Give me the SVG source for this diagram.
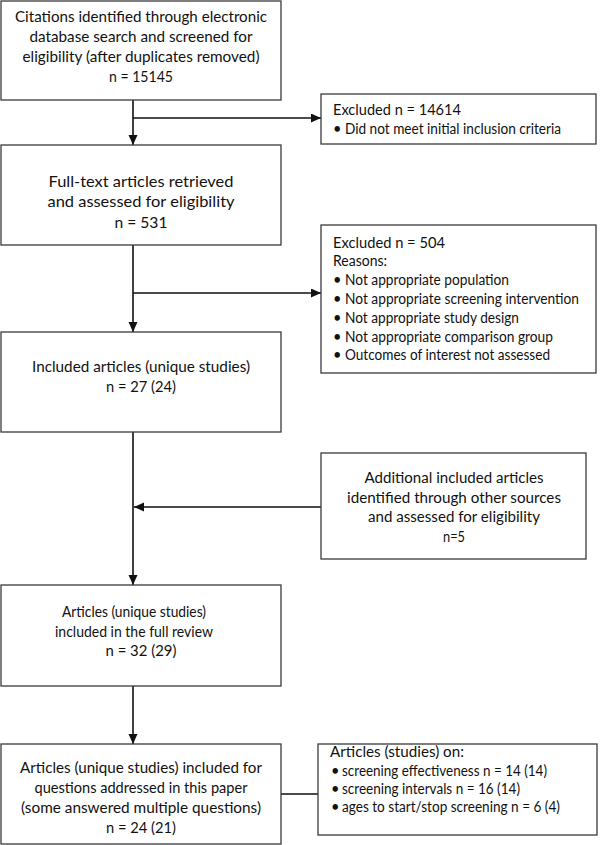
<svg xmlns="http://www.w3.org/2000/svg" width="600" height="845" viewBox="0 0 600 845">
<style>
.box{fill:#fff;stroke:#3a3a3a;stroke-width:1.3}
.t{font-family:Lato,"Liberation Sans",sans-serif;font-size:16px;fill:#111}
.s{font-size:14.6px}
.c{text-anchor:middle}
.ln{stroke:#111;stroke-width:1.6;fill:none}
</style>
<defs>
<marker id="ah" markerUnits="userSpaceOnUse" markerWidth="10" markerHeight="10" refX="10" refY="4.5" orient="auto">
<path d="M0,0 L10,4.5 L0,9 z" fill="#111"/>
</marker>
</defs>
<rect width="600" height="845" fill="#fff"/>
<g id="connectors">
<line class="ln" x1="133" y1="100" x2="133" y2="145" marker-end="url(#ah)"/>
<line class="ln" x1="133" y1="118" x2="321" y2="118" marker-end="url(#ah)"/>
<line class="ln" x1="133" y1="245" x2="133" y2="332" marker-end="url(#ah)"/>
<line class="ln" x1="133" y1="293" x2="321" y2="293" marker-end="url(#ah)"/>
<line class="ln" x1="133" y1="432" x2="133" y2="585" marker-end="url(#ah)"/>
<line class="ln" x1="321" y1="507" x2="134" y2="507" marker-end="url(#ah)"/>
<line class="ln" x1="133" y1="686" x2="133" y2="744" marker-end="url(#ah)"/>
<line class="ln" x1="281" y1="794" x2="318" y2="794"/>
</g>
<g id="n1">
<rect class="box" x="1" y="1" width="280" height="99"/>
<text class="t c" x="141" y="22" textLength="252" lengthAdjust="spacingAndGlyphs">Citations identified through electronic</text>
<text class="t c" x="141" y="42" textLength="223" lengthAdjust="spacingAndGlyphs">database search and screened for</text>
<text class="t c" x="141" y="62" textLength="237" lengthAdjust="spacingAndGlyphs">eligibility (after duplicates removed)</text>
<text class="t c" x="141" y="82" textLength="64" lengthAdjust="spacingAndGlyphs">n = 15145</text>
</g>
<g id="n2">
<rect class="box" x="1" y="145" width="280" height="100"/>
<text class="t c" x="141" y="187" textLength="185" lengthAdjust="spacingAndGlyphs">Full-text articles retrieved</text>
<text class="t c" x="141" y="207" textLength="187" lengthAdjust="spacingAndGlyphs">and assessed for eligibility</text>
<text class="t c" x="141" y="228" textLength="53" lengthAdjust="spacingAndGlyphs">n = 531</text>
</g>
<g id="ex1">
<rect class="box" x="321" y="94" width="275" height="50"/>
<text class="t s" x="333" y="115" textLength="128" lengthAdjust="spacingAndGlyphs">Excluded n = 14614</text>
<text class="t s" x="333" y="134">•</text><text class="t s" x="345" y="134" textLength="216" lengthAdjust="spacingAndGlyphs">Did not meet initial inclusion criteria</text>
</g>
<g id="ex2">
<rect class="box" x="321" y="225" width="275" height="148"/>
<text class="t s" x="333" y="248" textLength="112" lengthAdjust="spacingAndGlyphs">Excluded n = 504</text>
<text class="t s" x="333" y="266" textLength="54" lengthAdjust="spacingAndGlyphs">Reasons:</text>
<text class="t s" x="333" y="285">•</text><text class="t s" x="345" y="285" textLength="164" lengthAdjust="spacingAndGlyphs">Not appropriate population</text>
<text class="t s" x="333" y="304">•</text><text class="t s" x="345" y="304" textLength="234" lengthAdjust="spacingAndGlyphs">Not appropriate screening intervention</text>
<text class="t s" x="333" y="323">•</text><text class="t s" x="345" y="323" textLength="174" lengthAdjust="spacingAndGlyphs">Not appropriate study design</text>
<text class="t s" x="333" y="342">•</text><text class="t s" x="345" y="342" textLength="208" lengthAdjust="spacingAndGlyphs">Not appropriate comparison group</text>
<text class="t s" x="333" y="360">•</text><text class="t s" x="345" y="360" textLength="205" lengthAdjust="spacingAndGlyphs">Outcomes of interest not assessed</text>
</g>
<g id="n3">
<rect class="box" x="1" y="332" width="280" height="100"/>
<text class="t c" x="141" y="372" textLength="218" lengthAdjust="spacingAndGlyphs">Included articles (unique studies)</text>
<text class="t c" x="141" y="392" textLength="70" lengthAdjust="spacingAndGlyphs">n = 27 (24)</text>
</g>
<g id="add">
<rect class="box" x="321" y="453" width="265" height="106"/>
<text class="t s c" x="454" y="483" textLength="179" lengthAdjust="spacingAndGlyphs">Additional included articles</text>
<text class="t s c" x="454" y="503" textLength="214" lengthAdjust="spacingAndGlyphs">identified through other sources</text>
<text class="t s c" x="454" y="522" textLength="172" lengthAdjust="spacingAndGlyphs">and assessed for eligibility</text>
<text class="t s c" x="454" y="542" textLength="22" lengthAdjust="spacingAndGlyphs">n=5</text>
</g>
<g id="n4">
<rect class="box" x="1" y="585" width="280" height="101"/>
<text class="t c" x="134" y="617" textLength="144" lengthAdjust="spacingAndGlyphs">Articles (unique studies)</text>
<text class="t c" x="134" y="637" textLength="158" lengthAdjust="spacingAndGlyphs">included in the full review</text>
<text class="t c" x="141" y="656" textLength="71" lengthAdjust="spacingAndGlyphs">n = 32 (29)</text>
</g>
<g id="n5">
<rect class="box" x="1" y="744" width="280" height="100"/>
<text class="t c" x="141" y="773" textLength="242" lengthAdjust="spacingAndGlyphs">Articles (unique studies) included for</text>
<text class="t c" x="141" y="793" textLength="213" lengthAdjust="spacingAndGlyphs">questions addressed in this paper</text>
<text class="t c" x="141" y="813" textLength="240" lengthAdjust="spacingAndGlyphs">(some answered multiple questions)</text>
<text class="t c" x="141" y="833" textLength="70" lengthAdjust="spacingAndGlyphs">n = 24 (21)</text>
</g>
<g id="art">
<rect class="box" x="318" y="744" width="279" height="91"/>
<text class="t s" x="330" y="757" textLength="134" lengthAdjust="spacingAndGlyphs">Articles (studies) on:</text>
<text class="t s" x="331" y="776">•</text><text class="t s" x="342" y="776" textLength="205" lengthAdjust="spacingAndGlyphs">screening effectiveness n = 14 (14)</text>
<text class="t s" x="331" y="794">•</text><text class="t s" x="342" y="794" textLength="178" lengthAdjust="spacingAndGlyphs">screening intervals n = 16 (14)</text>
<text class="t s" x="331" y="812">•</text><text class="t s" x="342" y="812" textLength="218" lengthAdjust="spacingAndGlyphs">ages to start/stop screening n = 6 (4)</text>
</g>
</svg>
